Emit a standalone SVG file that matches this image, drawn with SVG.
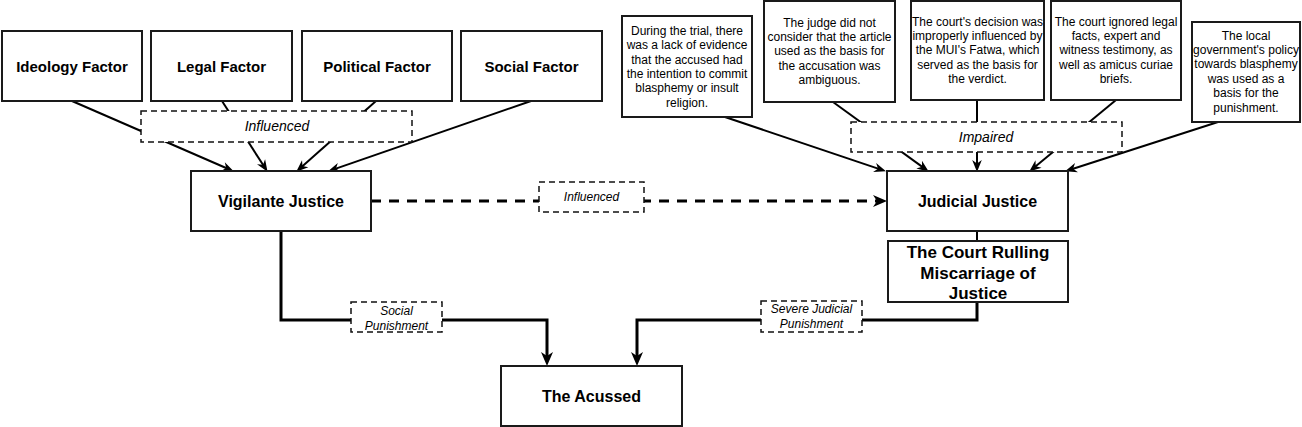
<svg xmlns="http://www.w3.org/2000/svg" width="1302" height="427" viewBox="0 0 1302 427">
  <style>
    .node { fill: #ffffff; stroke: #1a1a1a; stroke-width: 2; }
    .lbl { fill: #ffffff; stroke: #111111; stroke-width: 1.5; stroke-dasharray: 6 4; }
    .bold { font-family: "Liberation Sans", Arial, Helvetica, sans-serif; font-weight: bold; fill: #000; text-anchor: middle; }
    .small { font-family: "Liberation Sans", Arial, Helvetica, sans-serif; font-size: 12px; fill: #000; text-anchor: middle; }
    .ital { font-family: "Liberation Sans", Arial, Helvetica, sans-serif; font-style: italic; fill: #000; text-anchor: middle; }
    .thin { fill: none; stroke: #000; stroke-width: 2; marker-end: url(#arrowThin); }
    .thick { fill: none; stroke: #000; stroke-width: 3; marker-end: url(#arrowThick); }
    .dash { fill: none; stroke: #000; stroke-width: 3; stroke-dasharray: 10 8; marker-end: url(#arrowThick); }
  </style>
  <defs>
    <marker id="arrowThin" markerUnits="userSpaceOnUse" markerWidth="12" markerHeight="10" viewBox="0 0 10 8" refX="5" refY="4" orient="auto" overflow="visible">
      <path d="M0,0 L10,4 L0,8 L3,4 Z" fill="#000"/>
    </marker>
    <marker id="arrowThick" markerUnits="userSpaceOnUse" markerWidth="14" markerHeight="12" viewBox="0 0 14 12" refX="8" refY="6" orient="auto" overflow="visible">
      <path d="M0,0 L14,6 L0,12 L4,6 Z" fill="#000"/>
    </marker>
  </defs>

  <g id="connectors">
    <path class="thin" d="M72,101 L228.4,169"/>
    <path class="thin" d="M222,101 L264.3,166.8"/>
    <path class="thin" d="M376,101 L300.7,167.7"/>
    <path class="thin" d="M531,101 L333.7,169.4"/>
    <path class="thin" d="M725,117 L880.3,169.4"/>
    <path class="thin" d="M833,102 L924,168.1"/>
    <path class="thin" d="M977,100 L977,166"/>
    <path class="thin" d="M1116,100 L1033.9,167.8"/>
    <path class="thin" d="M1218,122 L1070.8,169.5"/>
    <path class="dash" d="M371,201 L881,201"/>
    <path fill="none" stroke="#000" stroke-width="2" d="M977,231 L977,241"/>
    <path class="thick" d="M281,231 V320 H547 V360"/>
    <path class="thick" d="M977,302 V320 H637 V360"/>
  </g>

  <g id="label-influenced-top">
    <rect class="lbl" x="141" y="111" width="271" height="31"/>
    <text class="ital" x="277" y="131" font-size="14">Influenced</text>
  </g>
  <g id="label-impaired">
    <rect class="lbl" x="851" y="122" width="271" height="30"/>
    <text class="ital" x="986" y="142" font-size="14">Impaired</text>
  </g>
  <g id="label-influenced-mid">
    <rect class="lbl" x="539" y="182" width="105" height="30"/>
    <text class="ital" x="591.5" y="200.5" font-size="12">Influenced</text>
  </g>
  <g id="label-social-punishment">
    <rect class="lbl" x="351" y="302" width="91" height="30"/>
    <text class="ital" x="396.5" font-size="12"><tspan x="396.5" y="314.5">Social</tspan><tspan x="396.5" y="329.5">Punishment</tspan></text>
  </g>
  <g id="label-severe-judicial-punishment">
    <rect class="lbl" x="761" y="301" width="101" height="31"/>
    <text class="ital" x="811.5" font-size="12"><tspan x="811.5" y="312.5">Severe Judicial</tspan><tspan x="811.5" y="327.5">Punishment</tspan></text>
  </g>

  <g id="ideology-factor">
    <rect class="node" x="2" y="31" width="140" height="70"/>
    <text class="bold" x="72" y="71.5" font-size="15">Ideology Factor</text>
  </g>
  <g id="legal-factor">
    <rect class="node" x="151" y="31" width="141" height="70"/>
    <text class="bold" x="221.5" y="71.5" font-size="15">Legal Factor</text>
  </g>
  <g id="political-factor">
    <rect class="node" x="302" y="31" width="150" height="70"/>
    <text class="bold" x="377" y="71.5" font-size="15">Political Factor</text>
  </g>
  <g id="social-factor">
    <rect class="node" x="461" y="31" width="141" height="70"/>
    <text class="bold" x="531.5" y="71.5" font-size="15">Social Factor</text>
  </g>

  <g id="vigilante-justice">
    <rect class="node" x="191" y="171" width="180" height="60"/>
    <text class="bold" x="281" y="206.5" font-size="16">Vigilante Justice</text>
  </g>
  <g id="judicial-justice">
    <rect class="node" x="887" y="171" width="181" height="60"/>
    <text class="bold" x="977.5" y="206.5" font-size="16">Judicial Justice</text>
  </g>
  <g id="court-ruling">
    <rect class="node" x="888" y="241" width="180" height="61"/>
    <text class="bold" x="978" font-size="17"><tspan x="978" y="258">The Court Rulling</tspan><tspan x="978" y="278.5">Miscarriage of</tspan><tspan x="978" y="299">Justice</tspan></text>
  </g>
  <g id="the-acussed">
    <rect class="node" x="501" y="366" width="181" height="60"/>
    <text class="bold" x="591.5" y="401.8" font-size="16">The Acussed</text>
  </g>

  <g id="reason-1">
    <rect class="node" x="622" y="16" width="130" height="101"/>
    <text class="small"><tspan x="687" y="34.8">During the trial, there</tspan><tspan x="687" y="49.2">was a lack of evidence</tspan><tspan x="687" y="63.6">that the accused had</tspan><tspan x="687" y="78">the intention to commit</tspan><tspan x="687" y="92.4">blasphemy or insult</tspan><tspan x="687" y="106.8">religion.</tspan></text>
  </g>
  <g id="reason-2">
    <rect class="node" x="764" y="1" width="131" height="101"/>
    <text class="small"><tspan x="829.5" y="26.6">The judge did not</tspan><tspan x="829.5" y="41">consider that the article</tspan><tspan x="829.5" y="55.4">used as the basis for</tspan><tspan x="829.5" y="69.8">the accusation was</tspan><tspan x="829.5" y="84.2">ambiguous.</tspan></text>
  </g>
  <g id="reason-3">
    <rect class="node" x="911" y="1" width="133" height="99"/>
    <text class="small"><tspan x="977.5" y="25.6">The court's decision was</tspan><tspan x="977.5" y="40">improperly influenced by</tspan><tspan x="977.5" y="54.4">the MUI's Fatwa, which</tspan><tspan x="977.5" y="68.8">served as the basis for</tspan><tspan x="977.5" y="83.2">the verdict.</tspan></text>
  </g>
  <g id="reason-4">
    <rect class="node" x="1051" y="1" width="130" height="99"/>
    <text class="small"><tspan x="1116" y="25.6">The court ignored legal</tspan><tspan x="1116" y="40">facts, expert and</tspan><tspan x="1116" y="54.4">witness testimony, as</tspan><tspan x="1116" y="68.8">well as amicus curiae</tspan><tspan x="1116" y="83.2">briefs.</tspan></text>
  </g>
  <g id="reason-5">
    <rect class="node" x="1192" y="22" width="108" height="100"/>
    <text class="small"><tspan x="1246" y="39.5">The local</tspan><tspan x="1246" y="53.9" textLength="106" lengthAdjust="spacingAndGlyphs">government's policy</tspan><tspan x="1246" y="68.3">towards blasphemy</tspan><tspan x="1246" y="82.7">was used as a</tspan><tspan x="1246" y="97.1">basis for the</tspan><tspan x="1246" y="111.5">punishment.</tspan></text>
  </g>
</svg>
